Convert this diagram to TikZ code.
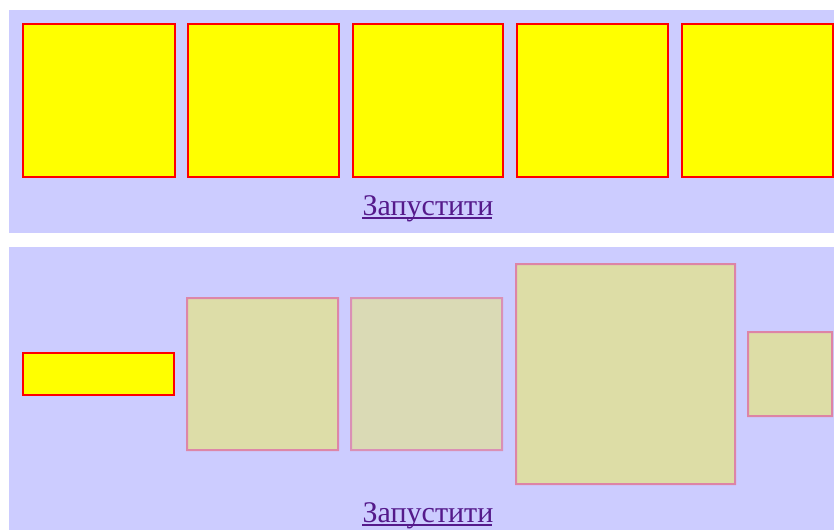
\documentclass[tikz,border=0pt]{standalone}
\usepackage{fontspec}
\setmainfont{Liberation Serif}
\definecolor{panelbg}{RGB}{204,204,255}
\definecolor{linkcol}{RGB}{85,26,139}
\definecolor{cellfill}{RGB}{255,255,0}
\definecolor{cellline}{RGB}{255,0,0}
\tikzset{
  panel/.style={fill=panelbg, draw=none},
  cell/.style={fill=cellfill, draw=cellline, line width=2pt},
  fade/.style={transparency group, opacity=#1},
  linktext/.style={text=linkcol, font=\fontsize{30}{30}\selectfont, inner sep=0pt, anchor=base},
  uline/.style={draw=linkcol, line width=1.5pt}
}
\begin{document}
\begin{tikzpicture}[x=1pt,y=-1pt]
\useasboundingbox (0,0) rectangle (834,530);
\fill[white] (0,0) rectangle (834,530);
% panels
\path[panel] (9,10) rectangle (834,233);
\path[panel] (9,247) rectangle (834,530);
% top cells
\draw[cell] (23,24) rectangle (175,177) node[midway] (t1) {};
\draw[cell] (188,24) rectangle (339,177) node[midway] (t2) {};
\draw[cell] (353,24) rectangle (503,177) node[midway] (t3) {};
\draw[cell] (517,24) rectangle (668,177) node[midway] (t4) {};
\draw[cell] (682,24) rectangle (833,177) node[midway] (t5) {};
\node[linktext] (l1) at (428,215) {Запустити};
\draw[uline] (l1.base west) ++(0,3) -- ++(130,0);
% bottom cells
\draw[cell] (23,353) rectangle (174,395) node[midway] (b1) {};
\begin{scope}[fade=0.34]
\draw[cell] (187,298) rectangle (338,450) node[midway] (b2) {};
\end{scope}
\begin{scope}[fade=0.29]
\draw[cell] (351,298) rectangle (502,450) node[midway] (b3) {};
\end{scope}
\begin{scope}[fade=0.35]
\draw[cell] (516,264) rectangle (735,484) node[midway] (b4) {};
\end{scope}
\begin{scope}[fade=0.35]
\draw[cell] (748,332) rectangle (832,416) node[midway] (b5) {};
\end{scope}
\node[linktext] (l2) at (428,522) {Запустити};
\draw[uline] (l2.base west) ++(0,3) -- ++(130,0);
\end{tikzpicture}
\end{document}
